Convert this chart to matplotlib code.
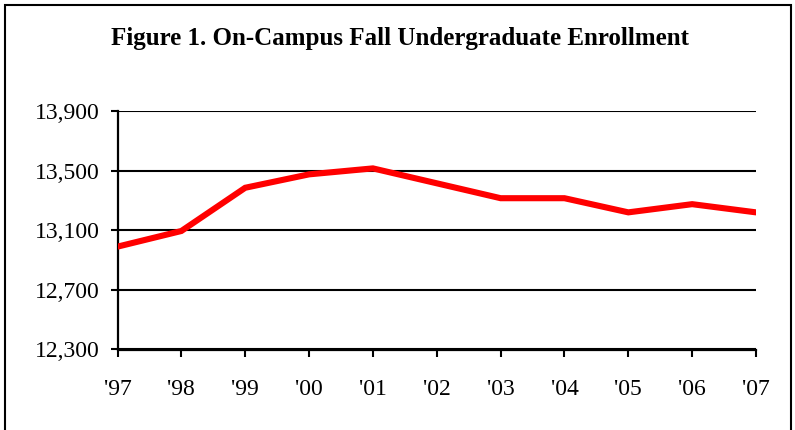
import matplotlib
matplotlib.use("Agg")
import matplotlib.pyplot as plt
from matplotlib.patches import Rectangle
from matplotlib.ticker import FuncFormatter

years = ["'97", "'98", "'99", "'00", "'01", "'02", "'03", "'04", "'05", "'06", "'07"]
enrollment = [12990, 13095, 13385, 13475, 13515, 13415, 13315, 13315, 13220, 13275, 13220]
yticks = [12300, 12700, 13100, 13500, 13900]
title = "Figure 1. On-Campus Fall Undergraduate Enrollment"

W, H = 795, 430
fig = plt.figure(figsize=(W / 100, H / 100), dpi=100)
plt.rcParams['font.family'] = ['Liberation Serif', 'DejaVu Serif']

left, right, top, bottom = 117.5, 756, 111, 349.5
ax = fig.add_axes([left / W, (H - bottom) / H, (right - left) / W, (bottom - top) / H])

x = list(range(len(years)))
ax.plot(x, enrollment, color='#ff0000', lw=4.4, solid_capstyle='round', solid_joinstyle='miter', zorder=3)

ax.set_xlim(0, len(years) - 1)
ax.set_ylim(yticks[0], yticks[-1])
ax.set_yticks(yticks)
ax.set_xticks(x)
ax.set_xticklabels(years)
ax.yaxis.set_major_formatter(FuncFormatter(lambda v, p: f"{int(v):,}"))
ax.grid(axis='y', color='black', lw=1.5, zorder=1)
ax.set_axisbelow(True)

for s in ['top', 'right']:
    ax.spines[s].set_visible(False)
for s in ['left', 'bottom']:
    ax.spines[s].set_linewidth(1.6)
    ax.spines[s].set_color('black')
ax.tick_params(axis='both', direction='out', length=5, width=1.5, colors='black', labelsize=17)
ax.tick_params(axis='y', pad=8)
ax.tick_params(axis='x', pad=16)

fig.text(0.5035, (H - 39) / H, title, ha='center', va='center', fontsize=18, fontweight='bold')

fig.patches.append(Rectangle((5 / W, -0.1), (791 - 5) / W, (H - 5) / H + 0.1, transform=fig.transFigure,
                             fill=False, edgecolor='black', lw=1.5, clip_on=False))

fig.savefig('out.png', dpi=100)
